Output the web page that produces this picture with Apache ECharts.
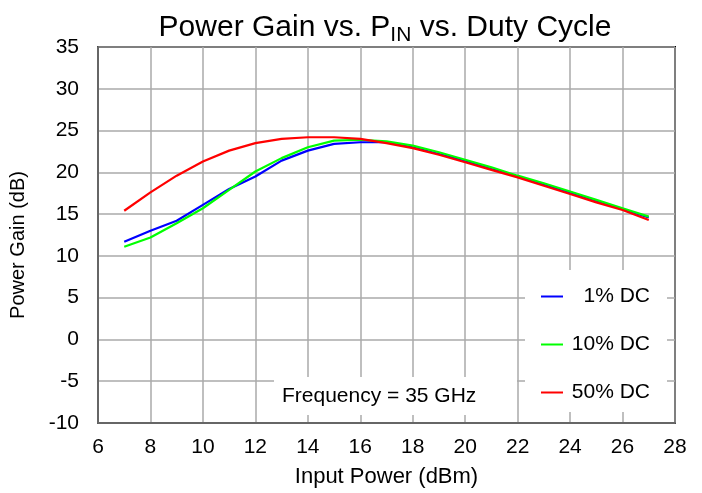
<!DOCTYPE html>
<html>
<head>
<meta charset="utf-8">
<script src="https://cdn.jsdelivr.net/npm/echarts@6/dist/echarts.min.js"></script>
<style>
html,body{margin:0;padding:0;background:#fff;}
#main{width:702px;height:493px;}
</style>
</head>
<body>
<div id="main"></div>
<script>
// input power (dBm)
var pin = [7, 8, 9, 10, 11, 12, 13, 14, 15, 16, 17, 18, 19, 20, 21, 22, 23, 24, 25, 26, 27];
// power gain (dB) per duty cycle
var dc1  = [11.7, 13.0, 14.2, 16.1, 18.0, 19.5, 21.4, 22.6, 23.4, 23.6, 23.6, 23.0, 22.2, 21.4, 20.4, 19.5, 18.5, 17.6, 16.6, 15.6, 14.6];
var dc10 = [11.1, 12.2, 13.9, 15.7, 17.9, 20.1, 21.7, 23.0, 23.8, 23.9, 23.7, 23.2, 22.4, 21.5, 20.6, 19.6, 18.7, 17.7, 16.7, 15.7, 14.7];
var dc50 = [15.4, 17.6, 19.6, 21.3, 22.6, 23.5, 24.0, 24.2, 24.2, 24.0, 23.5, 22.9, 22.1, 21.2, 20.3, 19.4, 18.4, 17.4, 16.4, 15.5, 14.3];
var names = ['1% DC', '10% DC', '50% DC'];
var colors = ['#0000ff', '#00ff00', '#ff0000'];

var myChart = echarts.init(document.getElementById('main'));

function pairs(ys){
	var out = [];
	for(var i=0;i<pin.length;i++){ out.push([pin[i], ys[i]]); }
	return out;
}

var font = 'Arial, "Liberation Sans", sans-serif';
var allData = [dc1, dc10, dc50];
var series = [];
for(var k=0;k<3;k++){
	series.push({
		name: names[k],
		type: 'line',
		data: pairs(allData[k]),
		showSymbol: false,
		lineStyle: {color: colors[k], width: 2.2},
		itemStyle: {color: colors[k]}
	});
}

var option = {
	animation: false,
	backgroundColor: '#fff',
	title: {
		text: 'Power Gain vs. P{sub|IN} vs. Duty Cycle',
		left: 380,
		textAlign: 'center',
		top: 5,
		textStyle: {
			fontFamily: font,
			fontSize: 30,
			fontWeight: 'normal',
			color: '#000',
			rich: {
				sub: {fontFamily: font, fontSize: 21, color: '#000', padding: [15, 0, 0, 0], verticalAlign: 'top'}
			}
		}
	},
	grid: {
		left: 98, right: 27, top: 47, bottom: 68,
		show: true,
		borderColor: '#000',
		borderWidth: 2
	},
	legend: {
		orient: 'vertical',
		left: 525,
		top: 270,
		padding: [16, 17, 9, 16],
		itemGap: 27,
		itemWidth: 22,
		itemHeight: 14,
		backgroundColor: '#fff',
		data: names.map(function(n){ return {name: n, icon: 'path://M0,6L22,6L22,8L0,8Z'}; }),
		formatter: function(n){ return '{a|' + n + '}'; },
		textStyle: {
			fontFamily: font, fontSize: 21, color: '#000',
			rich: {a: {fontFamily: font, fontSize: 21, color: '#000', width: 82, align: 'right', lineHeight: 20}}
		}
	},
	xAxis: {
		type: 'value',
		min: 6, max: 28, interval: 2,
		name: 'Input Power (dBm)',
		nameLocation: 'middle',
		nameGap: 43,
		nameTextStyle: {fontFamily: font, fontSize: 22, color: '#000'},
		axisLine: {onZero: false, lineStyle: {color: '#666', width: 2}},
		axisTick: {show: false},
		axisLabel: {fontFamily: font, fontSize: 21, color: '#000', margin: 14},
		splitLine: {lineStyle: {color: '#aaa', width: 1.5}}
	},
	yAxis: {
		type: 'value',
		min: -10, max: 35, interval: 5,
		name: 'Power Gain (dB)',
		nameLocation: 'middle',
		nameGap: 70,
		nameTextStyle: {fontFamily: font, fontSize: 20, color: '#000', padding: [0, 20, 0, 0]},
		axisLine: {show: true, onZero: false, lineStyle: {color: '#666', width: 2}},
		axisTick: {show: false},
		axisLabel: {fontFamily: font, fontSize: 21, color: '#000', margin: 19},
		splitLine: {lineStyle: {color: '#aaa', width: 1.5}}
	},
	graphic: [{
		type: 'rect',
		z: 100,
		shape: {x: 274, y: 377, width: 243, height: 38},
		style: {fill: '#fff'}
	}, {
		type: 'text',
		z: 101,
		style: {x: 282, y: 396, text: 'Frequency = 35 GHz', font: '21px ' + font, fill: '#000', verticalAlign: 'middle'}
	}],
	series: series
};
myChart.setOption(option, true);
</script>
</body>
</html>
